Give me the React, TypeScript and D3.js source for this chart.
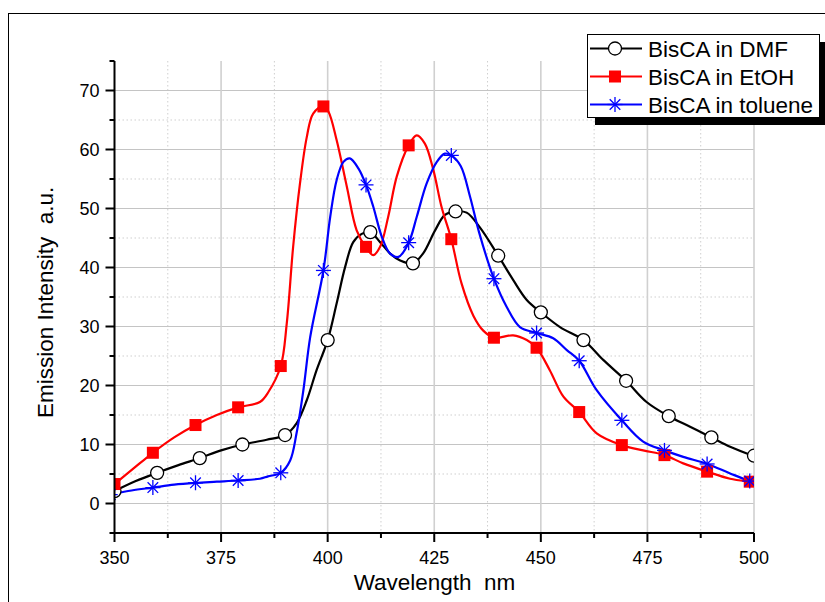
import React from "react";
import * as d3 from "d3";

// Marker samples (every 10 nm)
const dmfX = [350, 360, 370, 380, 390, 400, 410, 420, 430, 440, 450, 460, 470, 480, 490, 500];
const dmfY = [2.1, 5.2, 7.7, 10.0, 11.6, 27.7, 46.0, 40.7, 49.5, 42.0, 32.4, 27.7, 20.8, 14.8, 11.2, 8.1];
const etohX = [350, 359, 369, 379, 389, 399, 409, 419, 429, 439, 449, 459, 469, 479, 489, 499];
const etohY = [3.3, 8.6, 13.3, 16.3, 23.3, 67.3, 43.5, 60.7, 44.8, 28.1, 26.4, 15.5, 9.9, 8.2, 5.4, 3.7];
const tolX = [349, 359, 369, 379, 389, 399, 409, 419, 429, 439, 449, 459, 469, 479, 489, 499];
const tolY = [1.5, 2.7, 3.5, 3.9, 5.2, 39.5, 54.0, 44.2, 59.0, 38.1, 28.9, 24.2, 14.1, 9.0, 6.7, 3.8];

// Full spectra
const dmfLineX = [350, 355, 360, 365, 370, 375, 380, 385.7, 390, 392.7, 395.1, 397.4, 400, 402.1, 404.1, 406, 408, 410, 412.3, 414.6, 417, 420, 422.4, 425.2, 427.5, 430, 432.6, 435.7, 440, 443.5, 446.7, 450, 454.5, 460, 464.7, 470, 474.8, 480, 485, 490, 494.4, 500];
const dmfLineY = [2.1, 3.8, 5.2, 6.5, 7.7, 9.0, 10.0, 10.8, 11.6, 13.6, 17.5, 22.6, 27.7, 33.9, 40.1, 44.3, 45.7, 46.0, 44.3, 42.4, 41.2, 40.7, 42.4, 46.3, 48.9, 49.5, 49.3, 46.8, 42.0, 37.9, 34.5, 32.4, 29.9, 27.7, 24.3, 20.8, 17.2, 14.8, 13.0, 11.2, 9.6, 8.0];
const etohLineX = [350, 354.4, 359, 364, 369, 374, 379, 384.1, 386.1, 389, 390.4, 391.9, 393.5, 395.1, 396.6, 399, 400.2, 402.1, 404.5, 406.8, 409, 410.7, 412.3, 414.2, 416.2, 419, 420.9, 422.8, 424.8, 426.7, 429, 431.4, 434.2, 436.5, 439, 443.5, 446.7, 449, 452.1, 455.3, 459, 463.1, 469, 474, 479, 483.4, 489, 494.4, 499, 500];
const etohLineY = [3.3, 5.9, 8.6, 11.2, 13.3, 15.0, 16.3, 17.2, 18.9, 23.3, 30.5, 43.5, 54.2, 62.1, 66.1, 67.4, 66.4, 61.6, 53.7, 46.3, 43.4, 42.1, 43.5, 48.6, 55.4, 60.7, 62.4, 61.0, 56.5, 50.3, 44.8, 37.3, 31.8, 29.3, 28.1, 28.5, 27.7, 26.4, 22.6, 18.1, 15.5, 11.9, 9.9, 9.0, 8.2, 6.8, 5.4, 4.2, 3.7, 3.6];
const tolLineX = [349, 354, 359, 364, 369, 374, 379, 384.1, 386, 389, 391.2, 392.7, 394.3, 395.9, 399, 400.6, 402.1, 403.7, 405.2, 407.2, 409, 410.7, 412.7, 414.6, 416.6, 419, 420.9, 423.2, 425.6, 427.5, 429, 431.2, 433.4, 435.5, 439, 442, 445.1, 449, 452.9, 456.1, 459, 463.1, 469, 474, 479, 483.4, 489, 494.4, 499, 500];
const tolLineY = [1.5, 2.2, 2.7, 3.2, 3.5, 3.7, 3.9, 4.2, 4.6, 5.2, 7.3, 11.9, 19.2, 28.2, 39.5, 48.6, 54.8, 57.9, 58.5, 56.8, 54.0, 50.3, 45.2, 42.4, 41.8, 44.2, 48.6, 54.2, 57.9, 59.3, 59.0, 57.2, 52.0, 46.0, 38.1, 33.3, 29.9, 28.9, 28.0, 26.0, 24.2, 19.2, 14.1, 10.5, 9.0, 7.9, 6.7, 5.1, 3.8, 3.6];

const xMajor = [350, 375, 400, 425, 450, 475, 500];
const xMinor = [362.5, 387.5, 412.5, 437.5, 462.5, 487.5];
const yMajor = [0, 10, 20, 30, 40, 50, 60, 70];
const yMinor = [-5, 5, 15, 25, 35, 45, 55, 65, 75];

const seriesNames = ["BisCA in DMF", "BisCA in EtOH", "BisCA in toluene"];
const seriesColors = ["#000000", "#ff0000", "#0000ff"];

const L = 114.5, R = 754, T = 61, B = 533;
const FONT = "'Liberation Sans', Arial, sans-serif";

function Marker({ kind, x, y, color }: { kind: number; x: number; y: number; color: string }) {
  if (kind === 0) return <circle cx={x} cy={y} r={6.5} fill="#fff" stroke="#000" strokeWidth={1.3} />;
  if (kind === 1) return <rect x={x - 6} y={y - 6} width={12} height={12} fill={color} />;
  const s = 7.5, d = 5.3;
  return (
    <g stroke={color} strokeWidth={1.3}>
      <line x1={x - s} y1={y} x2={x + s} y2={y} />
      <line x1={x} y1={y - s} x2={x} y2={y + s} />
      <line x1={x - d} y1={y - d} x2={x + d} y2={y + d} />
      <line x1={x - d} y1={y + d} x2={x + d} y2={y - d} />
    </g>
  );
}

export default function App() {
  const x = d3.scaleLinear().domain([350, 500]).range([L, R]);
  const y = d3.scaleLinear().domain([-5, 75]).range([B, T]);
  const line = d3.line<[number, number]>().x((d) => x(d[0])).y((d) => y(d[1])).curve(d3.curveCatmullRom.alpha(0.5));
  const series = [
    { xs: dmfX, ys: dmfY, lx: dmfLineX, ly: dmfLineY },
    { xs: etohX, ys: etohY, lx: etohLineX, ly: etohLineY },
    { xs: tolX, ys: tolY, lx: tolLineX, ly: tolLineY },
  ];
  return (
    <svg width={825} height={602} style={{ position: "absolute", left: 0, top: 0 }} fontFamily={FONT}>
      <rect x={0} y={0} width={825} height={602} fill="#fff" />
      <rect x={8.5} y={13.5} width={840} height={620} fill="none" stroke="#000" strokeWidth={1} />
      <defs>
        <clipPath id="plot">
          <rect x={L} y={T} width={R - L} height={B - T} />
        </clipPath>
      </defs>
      {yMinor.filter((v) => v > -5 && v < 75).map((v) => (
        <line key={"ym" + v} x1={L} x2={R} y1={y(v)} y2={y(v)} stroke="#cfcfcf" strokeDasharray="1.5,2.5" />
      ))}
      {xMinor.map((v) => (
        <line key={"xm" + v} x1={x(v)} x2={x(v)} y1={T} y2={B} stroke="#cfcfcf" strokeDasharray="1.5,2.5" />
      ))}
      {yMajor.map((v) => (
        <line key={"yg" + v} x1={L} x2={R} y1={y(v)} y2={y(v)} stroke="#c4c4c4" strokeWidth={1.2} />
      ))}
      {xMajor.filter((v) => v > 350).map((v) => (
        <line key={"xg" + v} x1={x(v)} x2={x(v)} y1={T} y2={B} stroke="#d0d0d0" strokeWidth={1.6} />
      ))}
      <g clipPath="url(#plot)">
        {series.map((s, i) => (
          <path key={"p" + i} d={line(s.lx.map((v, j) => [v, s.ly[j]]) as [number, number][]) || ""} fill="none" stroke={seriesColors[i]} strokeWidth={2.2} />
        ))}
        {series.map((s, i) =>
          s.xs.map((v, j) => <Marker key={"m" + i + "-" + j} kind={i} x={x(v)} y={y(s.ys[j])} color={seriesColors[i]} />)
        )}
      </g>
      <line x1={L} x2={L} y1={T} y2={B + 1} stroke="#000" strokeWidth={2} />
      <line x1={L - 1} x2={R} y1={B} y2={B} stroke="#000" strokeWidth={2} />
      {yMajor.map((v) => (
        <g key={"yt" + v}>
          <line x1={L - 9} x2={L} y1={y(v)} y2={y(v)} stroke="#000" strokeWidth={2} />
          <text x={L - 15} y={y(v) + 6.5} textAnchor="end" fontSize={18} fill="#000">{v}</text>
        </g>
      ))}
      {yMinor.map((v) => (
        <line key={"ymt" + v} x1={L - 5} x2={L} y1={y(v)} y2={y(v)} stroke="#000" strokeWidth={2} />
      ))}
      {xMajor.map((v) => (
        <g key={"xt" + v}>
          <line x1={x(v)} x2={x(v)} y1={B} y2={B + 9} stroke="#000" strokeWidth={2} />
          <text x={x(v)} y={B + 31} textAnchor="middle" fontSize={18} fill="#000">{v}</text>
        </g>
      ))}
      {xMinor.map((v) => (
        <line key={"xmt" + v} x1={x(v)} x2={x(v)} y1={B} y2={B + 5} stroke="#000" strokeWidth={2} />
      ))}
      <text x={434.5} y={590} textAnchor="middle" fontSize={22.5} fill="#000" style={{ whiteSpace: "pre" }}>{"Wavelength  nm"}</text>
      <text transform="translate(53,418) rotate(-90)" textAnchor="start" fontSize={22.5} fill="#000" style={{ whiteSpace: "pre" }}>{"Emission Intensity  a.u."}</text>
      <rect x={595} y={42} width={240} height={83} fill="#000" />
      <rect x={587.5} y={34.5} width={232} height={83} fill="#fff" stroke="#000" strokeWidth={1} />
      {seriesNames.map((n, i) => {
        const ly = 48.5 + i * 28;
        return (
          <g key={"lg" + i}>
            <line x1={590} x2={642} y1={ly} y2={ly} stroke={seriesColors[i]} strokeWidth={2.2} />
            <Marker kind={i} x={615} y={ly} color={seriesColors[i]} />
            <text x={648} y={ly + 8} fontSize={22.5} fill="#000">{n}</text>
          </g>
        );
      })}
    </svg>
  );
}
